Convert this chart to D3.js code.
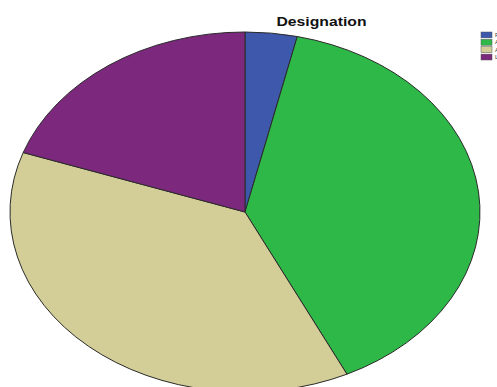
<!DOCTYPE html>
<html>
<head>
<meta charset="utf-8">
<script src="https://cdn.jsdelivr.net/npm/d3@7"></script>
<style>
html,body{margin:0;padding:0;background:#fff;overflow:hidden;}
svg{display:block;}
</style>
</head>
<body>
<svg id="chart" width="497" height="387"></svg>
<script>
const categories = ["Professor", "Associate Professor", "Assistant Professor", "Lecturer"];
const values = [2, 22, 21, 11];
const colors = ["#3e58ac", "#2eb848", "#d3ce97", "#7c287d"];
const title = "Designation";

const W = 497, H = 387;
const cx = 245, cy = 212, rx = 235, ry = 180;
const R = 100;

const svg = d3.select("#chart");
svg.append("rect").attr("width", W).attr("height", H).attr("fill", "#fff");

const data = categories.map((c, i) => ({ cat: c, value: values[i], color: colors[i] }));
const pie = d3.pie().value(d => d.value).sort(null);
const arc = d3.arc().innerRadius(0).outerRadius(R);

const g = svg.append("g")
  .attr("transform", `translate(${cx},${cy}) scale(${rx / R},${ry / R})`);

g.selectAll("path")
  .data(pie(data))
  .join("path")
  .attr("d", arc)
  .attr("fill", d => d.data.color)
  .attr("stroke", "#2a2a2a")
  .attr("stroke-width", 1)
  .attr("vector-effect", "non-scaling-stroke");

svg.append("text")
  .attr("x", 321.5)
  .attr("y", 26)
  .attr("text-anchor", "middle")
  .attr("font-family", "Liberation Sans, Arial, sans-serif")
  .attr("font-weight", "bold")
  .attr("font-size", 12.5)
  .attr("textLength", 90)
  .attr("lengthAdjust", "spacingAndGlyphs")
  .attr("fill", "#111")
  .text(title);

const leg = svg.append("g");
const ly = d3.scaleBand().domain(categories).range([32, 60]).paddingInner(0.2);
leg.selectAll("rect")
  .data(data)
  .join("rect")
  .attr("x", 481)
  .attr("y", d => ly(d.cat))
  .attr("width", 11)
  .attr("height", ly.bandwidth())
  .attr("fill", d => d.color)
  .attr("stroke", "#555")
  .attr("stroke-width", 0.5);
leg.selectAll("text")
  .data(data)
  .join("text")
  .attr("x", 495)
  .attr("y", d => ly(d.cat) + ly.bandwidth() / 2 + 2)
  .attr("font-family", "Liberation Sans, Arial, sans-serif")
  .attr("font-size", 6)
  .attr("fill", "#333")
  .text(d => d.cat);
</script>
</body>
</html>
